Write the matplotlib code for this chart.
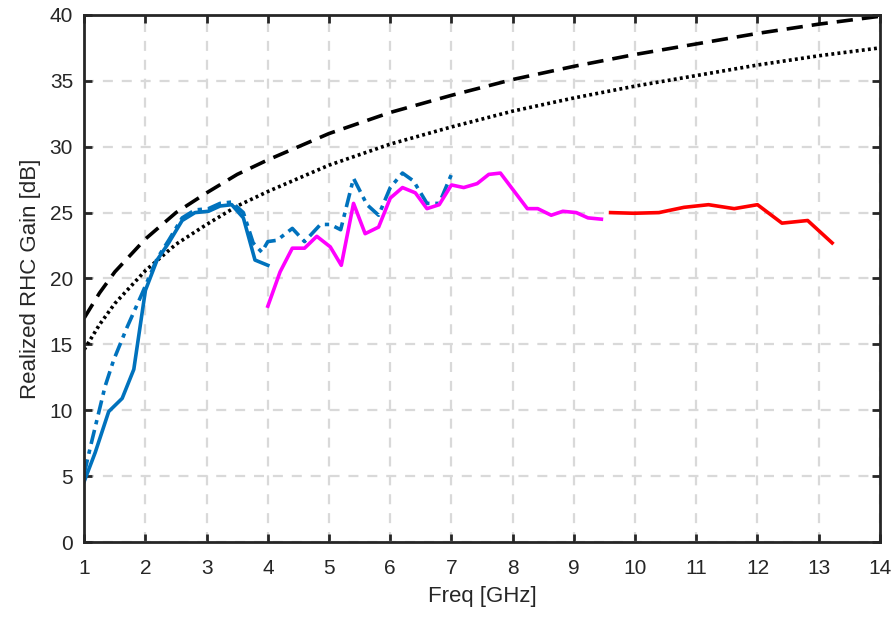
import matplotlib.pyplot as plt

plt.rcParams['font.family'] = ['Liberation Sans', 'DejaVu Sans']

# reference curves (black)
ref_f = [1, 1.25, 1.5, 2, 2.5, 3, 3.5, 4, 5, 6, 7, 8, 9, 10, 11, 12, 13, 14]
ref_dashed = [17.0, 18.9, 20.5, 23.0, 25.0, 26.5, 27.9, 29.0, 31.0, 32.6, 33.9,
              35.1, 36.1, 37.0, 37.8, 38.6, 39.3, 39.9]
ref_dotted = [14.6, 16.5, 18.1, 20.6, 22.6, 24.1, 25.5, 26.6, 28.6, 30.2, 31.5,
              32.7, 33.7, 34.6, 35.4, 36.2, 36.9, 37.5]

# blue solid
blue_f = [1.0, 1.18, 1.4, 1.62, 1.81, 2.0, 2.19, 2.38, 2.6, 2.81, 3.03, 3.22,
          3.41, 3.6, 3.79, 4.0]
blue_g = [4.6, 6.8, 9.9, 10.9, 13.1, 19.1, 21.4, 22.7, 24.4, 25.0, 25.1, 25.5,
          25.6, 24.6, 21.4, 21.0]

# blue dash-dot
bdd_f = [1.0, 1.1, 1.34, 1.48, 1.7, 1.94, 2.19, 2.38, 2.6, 2.81, 3.03, 3.22,
         3.41, 3.6, 3.76, 3.9, 4.0, 4.15, 4.4, 4.6, 4.86, 5.02, 5.19, 5.4, 5.62,
         5.81, 6.0, 6.2, 6.38, 6.6, 6.8, 7.0]
bdd_g = [5.2, 7.2, 11.8, 13.8, 16.3, 18.8, 21.5, 22.9, 24.6, 25.2, 25.3, 25.7,
         25.8, 25.0, 22.7, 22.0, 22.8, 22.9, 23.8, 22.8, 24.1, 24.1, 23.7, 27.6,
         25.6, 24.8, 26.9, 28.0, 27.4, 25.7, 25.7, 27.9]

# magenta
mag_f = [4.0, 4.2, 4.4, 4.6, 4.8, 5.02, 5.2, 5.4, 5.59, 5.81, 6.0, 6.2, 6.41,
         6.6, 6.8, 7.0, 7.2, 7.42, 7.61, 7.8, 8.24, 8.41, 8.63, 8.82, 9.04,
         9.23, 9.45]
mag_g = [17.9, 20.5, 22.3, 22.3, 23.2, 22.4, 21.0, 25.7, 23.4, 23.9, 26.1,
         26.9, 26.5, 25.3, 25.6, 27.1, 26.9, 27.2, 27.9, 28.0, 25.3, 25.3, 24.8,
         25.1, 25.0, 24.6, 24.5]

# red
red_f = [9.6, 9.98, 10.39, 10.8, 11.2, 11.62, 12.0, 12.4, 12.82, 13.22]
red_g = [25.0, 24.95, 25.0, 25.4, 25.6, 25.3, 25.6, 24.2, 24.4, 22.7]

fig = plt.figure(figsize=(8.96, 6.23), dpi=100)
ax = fig.add_axes([0.094, 0.130, 0.888, 0.846])

blue = '#0072BD'
ax.plot(ref_f, ref_dashed, color='black', lw=2.6, linestyle=(0, (4.5, 2.5)))
ax.plot(ref_f, ref_dotted, color='black', lw=2.6, linestyle=(0, (0.8, 0.9)))
ax.plot(blue_f, blue_g, color=blue, lw=2.6)
ax.plot(bdd_f, bdd_g, color=blue, lw=2.6, linestyle=(0, (4, 1.6, 1.2, 1.6)))
ax.plot(mag_f, mag_g, color='#FF00FF', lw=2.6)
ax.plot(red_f, red_g, color='#FF0000', lw=2.6)

ax.set_xlim(1, 14)
ax.set_ylim(0, 40)
ax.set_xticks(range(1, 15))
ax.set_yticks(range(0, 41, 5))
ax.grid(True, color='#d9d9d9', linestyle=(0, (4.5, 4)), lw=1.6)
ax.set_axisbelow(True)

for s in ax.spines.values():
    s.set_color('#262626')
    s.set_linewidth(2.0)
ax.tick_params(direction='in', top=True, right=True, length=6, width=2,
               color='#262626', labelsize=15, labelcolor='#262626')
ax.tick_params(axis='x', pad=12)
ax.tick_params(axis='y', pad=8)

ax.set_xlabel('Freq [GHz]', fontsize=16, color='#262626', labelpad=6)
ax.set_ylabel('Realized RHC Gain [dB]', fontsize=16, color='#262626', labelpad=6)

plt.savefig('out.png', dpi=100)
